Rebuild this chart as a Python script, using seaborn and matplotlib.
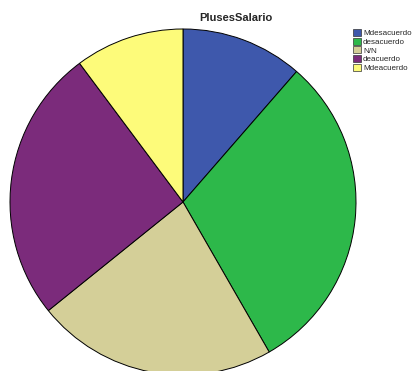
import matplotlib
matplotlib.use("Agg")
import matplotlib.pyplot as plt
from matplotlib.patches import Patch
import seaborn as sns

categories = ["Mdesacuerdo", "desacuerdo", "N/N", "deacuerdo", "Mdeacuerdo"]
percentages = [11.4, 30.3, 22.5, 25.6, 10.2]
colors = ["#3e58ac", "#2db84a", "#d4cf98", "#7b2b7b", "#fdfb7a"]
title = "PlusesSalario"

sns.set_style("white")
plt.rcParams["font.family"] = ["Liberation Sans", "DejaVu Sans"]

W, H = 414, 371
fig = plt.figure(figsize=(W / 100, H / 100), dpi=100)
ax = fig.add_axes([0, 0, 1, 1])

cx, cy, r = 183, 202, 173
ax.pie(percentages, colors=colors, startangle=90, counterclock=False,
       radius=1, wedgeprops=dict(edgecolor="black", linewidth=0.7))
ax.set_aspect("auto")
ax.set_xlim(-cx / r, (W - cx) / r)
ax.set_ylim(-(H - cy) / r, cy / r)
ax.axis("off")

fig.text(236 / W, 1 - 18 / H, title, ha="center", va="center",
         fontsize=8, fontweight="bold")

handles = [Patch(facecolor=c, edgecolor="#333333", linewidth=0.5) for c in colors]
leg = fig.legend(handles, categories, loc="upper left",
                 bbox_to_anchor=(353 / W, 1 - 29 / H), frameon=False,
                 fontsize=5.8, handlelength=0.95, handleheight=0.95,
                 handletextpad=0.3, labelspacing=0.05, borderpad=0,
                 borderaxespad=0)

fig.savefig("out.png", dpi=100)
